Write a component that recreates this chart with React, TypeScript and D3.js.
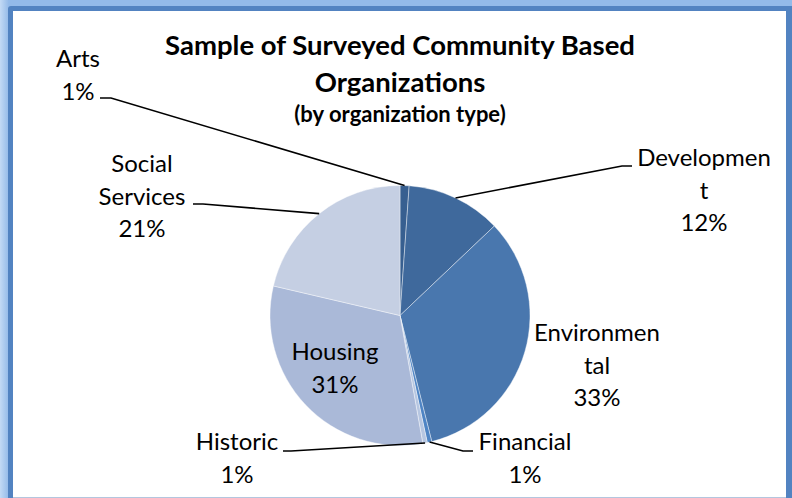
import React from "react";
import * as d3 from "d3";

const categories = ["Arts", "Development", "Environmental", "Financial", "Historic", "Housing", "Social Services"];
const counts = [2, 21, 59, 1, 1, 56, 38];
const labelLines = [["Arts"], ["Developmen", "t"], ["Environmen", "tal"], ["Financial"], ["Historic"], ["Housing"], ["Social", "Services"]];
const sliceColors = ["#375F90", "#3F699C", "#4977AE", "#4E84C4", "#B6C6E1", "#AAB9D8", "#C5CFE3"];
const titleLines = ["Sample of Surveyed Community Based", "Organizations"];
const subtitle = "(by organization type)";

const W = 792, H = 498;
const cx = 400, cy = 315.5, R = 130;
const FONT = "Lato, 'Open Sans', sans-serif";

// label layout: center x, first baseline, leader start points (null = no leader)
const layout: { x: number; y: number; leader: [number, number][] | null }[] = [
  { x: 78, y: 67, leader: [[100, 98], [111, 98]] },
  { x: 704, y: 166, leader: [[632, 166], [622, 166]] },
  { x: 597, y: 341, leader: null },
  { x: 525, y: 450, leader: [[473, 451], [463, 451]] },
  { x: 237, y: 450, leader: [[283, 451], [291, 451]] },
  { x: 335, y: 360, leader: null },
  { x: 142, y: 172, leader: [[193, 204], [203, 204]] },
];

export default function App() {
  const total = d3.sum(counts);
  const pie = d3.pie<number>().sort(null).value((d) => d);
  const arcs = pie(counts);
  const arc = d3.arc<d3.PieArcDatum<number>>().innerRadius(0).outerRadius(R);
  const edge = d3.arc<d3.PieArcDatum<number>>().innerRadius(R).outerRadius(R);
  const line = d3.line();
  const lh = 32.5;

  return (
    <svg width={W} height={H} style={{ position: "absolute", left: 0, top: 0, display: "block" }}>
      <defs>
        <linearGradient id="lb" x1="0" x2="1" y1="0" y2="0">
          <stop offset="0" stopColor="#C3DAF5" />
          <stop offset="1" stopColor="#92B9E8" />
        </linearGradient>
      </defs>
      <rect x={0} y={0} width={W} height={H} fill="#93BAE9" />
      <rect x={0} y={0} width={9} height={H} fill="url(#lb)" />
      <rect x={8} y={6} width={W - 6} height={H} rx={3} fill="#5283C1" />
      <rect x={13} y={11} width={W - 13 - 6} height={H - 11} fill="#FFFFFF" />
      <rect x={13} y={H - 1} width={W - 13 - 6} height={1} fill="#B4C6DE" />

      <g transform={`translate(${cx},${cy})`}>
        {arcs.map((a, i) => (
          <path key={categories[i]} d={arc(a) || ""} fill={sliceColors[i]} stroke="#FFFFFF" strokeOpacity={0.5} strokeWidth={0.8} />
        ))}
      </g>

      {arcs.map((a, i) => {
        const L = layout[i];
        if (!L.leader) return null;
        const [ex, ey] = edge.centroid(a);
        const pts: [number, number][] = [...L.leader, [cx + ex, cy + ey]];
        return <path key={"l" + i} d={line(pts) || ""} fill="none" stroke="#000" strokeWidth={1.6} />;
      })}

      {arcs.map((a, i) => {
        const L = layout[i];
        const pct = Math.round((counts[i] / total) * 100) + "%";
        const lines = [...labelLines[i], pct];
        return (
          <text key={"t" + i} x={L.x} y={L.y} textAnchor="middle" fontFamily={FONT} fontSize={24} fill="#000">
            {lines.map((s, j) => (
              <tspan key={j} x={L.x} y={L.y + j * lh}>{s}</tspan>
            ))}
          </text>
        );
      })}

      <text x={400} y={55} textAnchor="middle" fontFamily={FONT} fontWeight="bold" fontSize={27.5} fill="#000">
        <tspan x={400} y={55}>{titleLines[0]}</tspan>
        <tspan x={400} y={92}>{titleLines[1]}</tspan>
      </text>
      <text x={400} y={122} textAnchor="middle" fontFamily={FONT} fontWeight="bold" fontSize={22} fill="#000">{subtitle}</text>
    </svg>
  );
}
